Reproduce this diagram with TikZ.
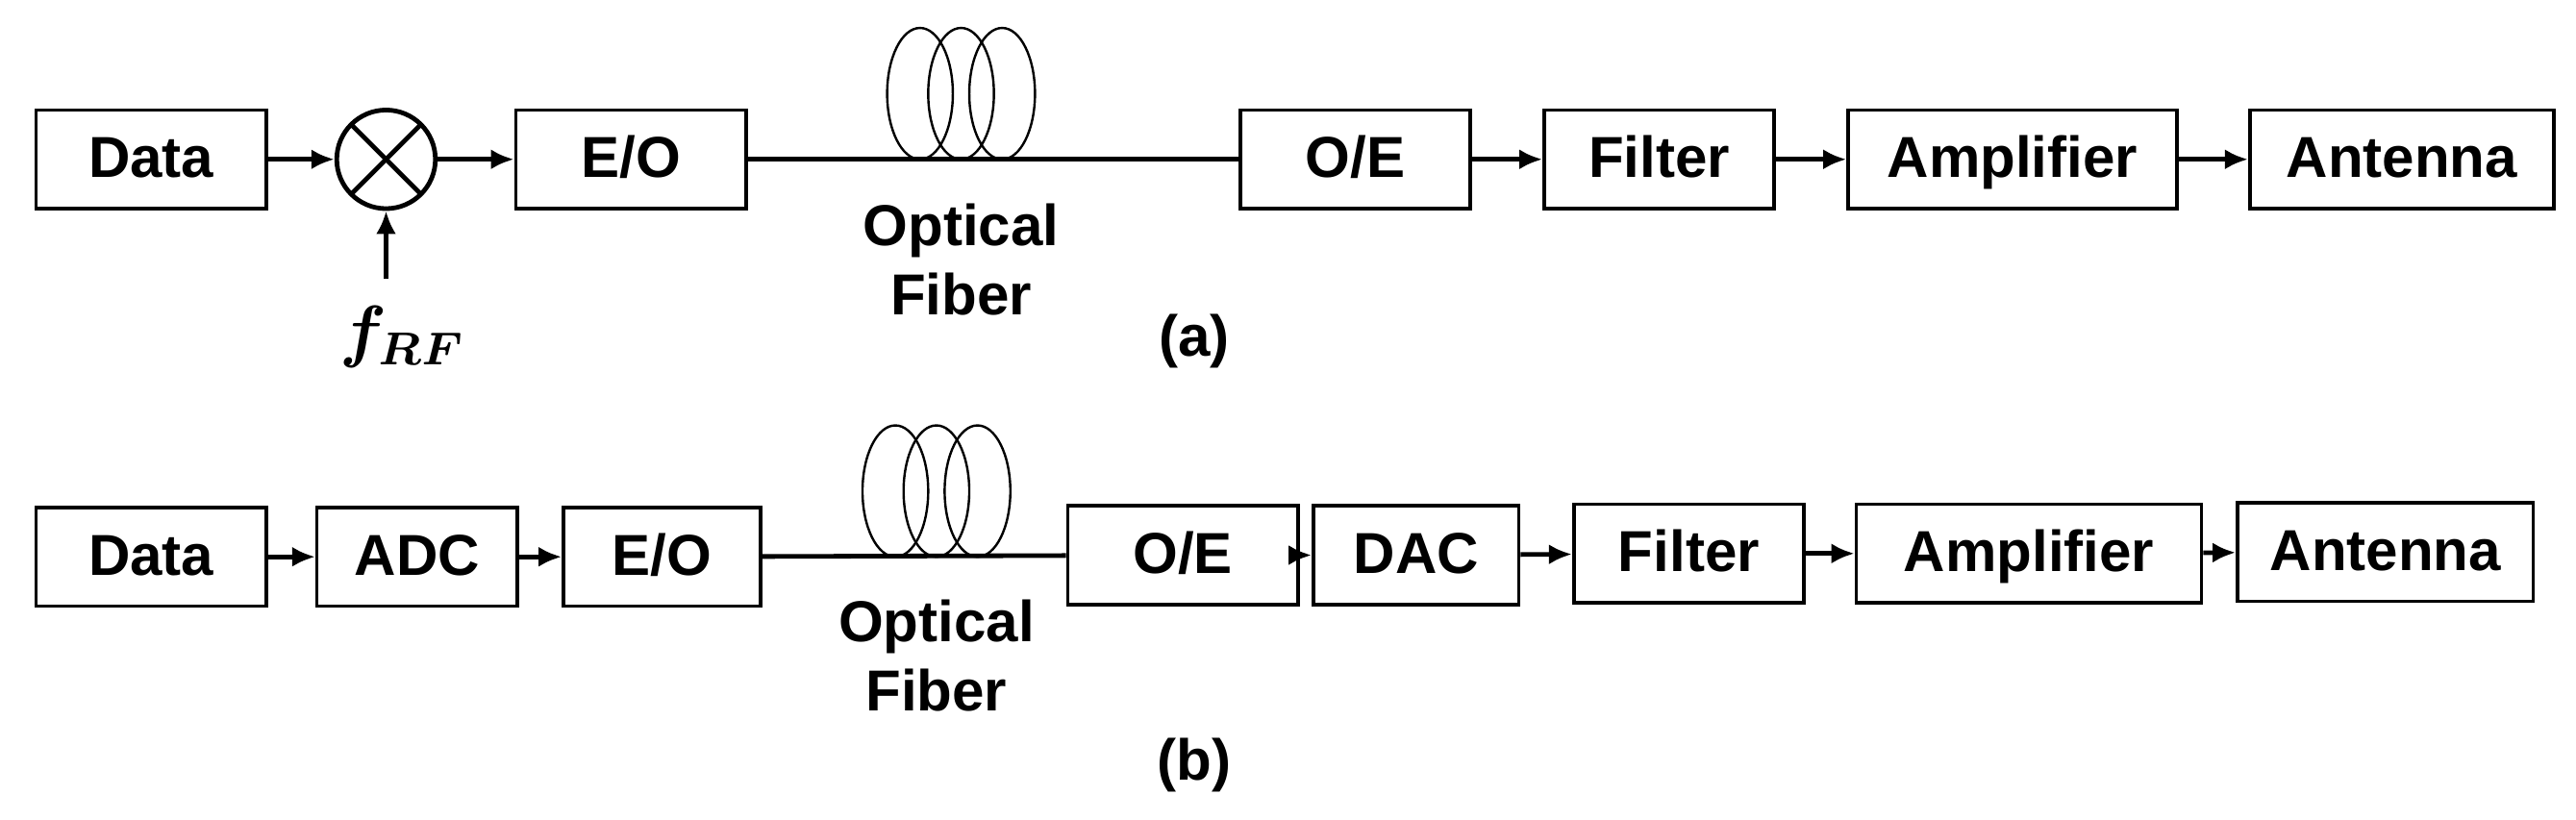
\documentclass[tikz,border=0pt]{standalone}
\usepackage{amsmath}
\usepackage{bm}
\usepackage{fontspec}
\setmainfont{Liberation Sans}
\usetikzlibrary{arrows.meta}
\begin{document}
\begin{tikzpicture}[x=0.01cm, y=-0.01cm]
	\tikzstyle{block} = [rectangle, draw=black, line width=0.6pt, minimum height=0.6cm, inner sep=0pt, text height=1.6ex, text depth=0.4ex, font=\fontsize{10}{12}\selectfont\bfseries]
	\tikzstyle{edge} = [-{Latex[length=4pt,width=3.5pt]}, line width=0.8pt]
	\tikzstyle{label} = [font=\fontsize{10}{12}\selectfont\bfseries, align=center]
	\tikzstyle{coil} = [draw=black, line width=0.4pt]
	\useasboundingbox (0,0) rectangle (1568,499);
	% (a)
	\node[block, minimum width=1.4cm](dataA) at (92,97){Data};
	\node[circle, draw=black, line width=0.8pt, minimum size=0.6cm](mix) at (235,97){};
	\draw[line width=0.8pt] ([shift={(-21,-21)}]mix.center) -- ([shift={(21,21)}]mix.center);
	\draw[line width=0.8pt] ([shift={(-21,21)}]mix.center) -- ([shift={(21,-21)}]mix.center);
	\node[block, minimum width=1.4cm](eoA) at (384,97){E/O};
	\node[block, minimum width=1.4cm](oeA) at (825,97){O/E};
	\node[block, minimum width=1.4cm](filterA) at (1010,97){Filter};
	\node[block, minimum width=2.0cm](ampA) at (1225,97){Amplifier};
	\node[block, minimum width=1.85cm](antA) at (1462,97){Antenna};
	\coordinate (rfA) at (235,170);
	\node[font=\fontsize{12}{14}\selectfont](frf) at (245,205){$\bm{f_{RF}}$};
	\foreach \cx in {560,585,610} \draw[coil] (\cx,57) ellipse (20 and 40);
	\node[label](fibA) at (585,158){Optical\\Fiber};
	\node[label](capA) at (727,208){(a)};
	\draw[edge] (dataA) -- (mix);
	\draw[edge] (mix) -- (eoA);
	\draw[edge] (rfA) -- (mix);
	\draw[line width=0.8pt] (eoA) -- (oeA);
	\draw[edge] (oeA) -- (filterA);
	\draw[edge] (filterA) -- (ampA);
	\draw[edge] (ampA) -- (antA);
	% (b)
	\node[block, minimum width=1.4cm](dataB) at (92,339){Data};
	\node[block, minimum width=1.22cm](adc) at (254,339){ADC};
	\node[block, minimum width=1.2cm](eoB) at (403,339){E/O};
	\node[block, minimum width=1.4cm](oeB) at (720,338){O/E};
	\node[block, minimum width=1.25cm](dac) at (862,338){DAC};
	\node[block, minimum width=1.4cm](filterB) at (1028,337){Filter};
	\node[block, minimum width=2.1cm](ampB) at (1235,337){Amplifier};
	\node[block, minimum width=1.8cm](antB) at (1452,336){Antenna};
	\foreach \cx in {545,570,595} \draw[coil] (\cx,299) ellipse (20 and 40);
	\node[label](fibB) at (570,399){Optical\\Fiber};
	\node[label](capB) at (727,466){(b)};
	\draw[edge] (dataB) -- (adc);
	\draw[edge] (adc) -- (eoB);
	\draw[line width=0.8pt] (eoB) -- (oeB);
	\draw[edge] (oeB) -- (dac);
	\draw[edge] (dac) -- (filterB);
	\draw[edge] (filterB) -- (ampB);
	\draw[edge] (ampB) -- (antB);
\end{tikzpicture}
\end{document}
